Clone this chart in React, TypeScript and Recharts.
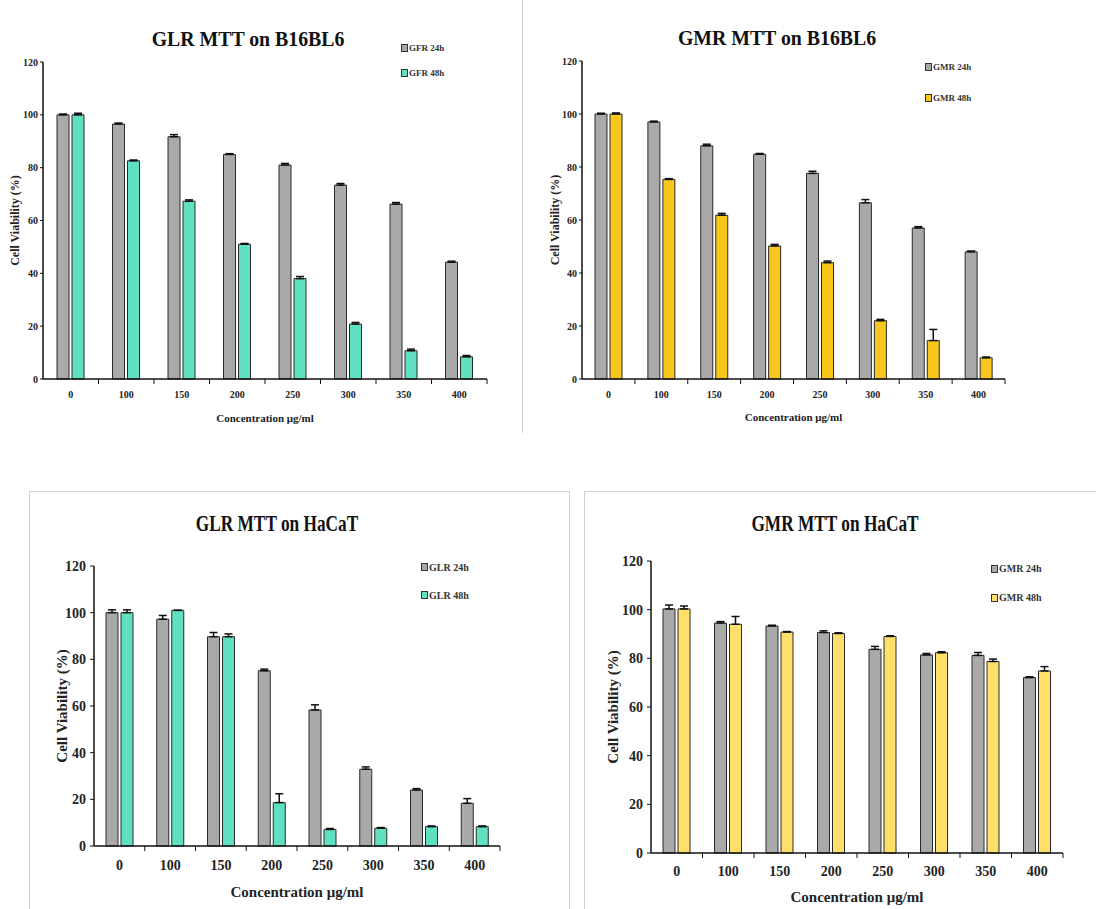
import React from 'react';
import { BarChart, Bar, XAxis, YAxis, ErrorBar, Legend } from 'recharts';

const FONT = '"Liberation Serif", "Times New Roman", serif';

const concentrations = ['0', '100', '150', '200', '250', '300', '350', '400'];
const yTicks = [0, 20, 40, 60, 80, 100, 120];

// GLR on B16BL6
const glrB16h24 = [100, 96.5, 91.7, 85, 81, 73.4, 66.2, 44.2];
const glrB16h24Err = [0.3, 0.4, 0.8, 0.3, 0.6, 0.6, 0.6, 0.4];
const glrB16h48 = [100, 82.6, 67.3, 51, 38, 20.8, 10.7, 8.4];
const glrB16h48Err = [0.6, 0.3, 0.5, 0.3, 0.8, 0.6, 0.6, 0.5];

// GMR on B16BL6
const gmrB16h24 = [100, 97, 88, 84.8, 77.6, 66.5, 57, 48];
const gmrB16h24Err = [0.3, 0.3, 0.6, 0.3, 0.8, 1.2, 0.5, 0.3];
const gmrB16h48 = [100, 75.3, 61.8, 50.2, 43.9, 22, 14.5, 8];
const gmrB16h48Err = [0.4, 0.3, 0.7, 0.6, 0.6, 0.5, 4.2, 0.3];

// GLR on HaCaT
const glrHaCaTh24 = [100, 97.2, 89.7, 75.1, 58.3, 32.9, 24, 18.3];
const glrHaCaTh24Err = [1.2, 1.6, 1.8, 0.7, 2.2, 1.0, 0.6, 2.0];
const glrHaCaTh48 = [100, 101, 89.7, 18.6, 7.1, 7.6, 8.3, 8.3];
const glrHaCaTh48Err = [1.2, 0, 1.2, 3.8, 0.4, 0.3, 0.3, 0.3];

// GMR on HaCaT
const gmrHaCaTh24 = [100.3, 94.5, 93.3, 90.6, 83.7, 81.4, 81.2, 72.1];
const gmrHaCaTh24Err = [1.6, 0.6, 0.3, 0.7, 1.2, 0.6, 1.2, 0.3];
const gmrHaCaTh48 = [100.3, 94, 90.8, 90.2, 89, 82.3, 78.7, 74.8];
const gmrHaCaTh48Err = [1.2, 3.2, 0.2, 0.3, 0.3, 0.4, 1.0, 1.8];

const GRAY = '#a9a9a9';
const TEAL = '#5fe0c0';
const YELLOW_DARK = '#f8c61c';
const YELLOW_LIGHT = '#fddf6a';

type PanelProps = {
  title: string;
  names: [string, string];
  colors: [string, string];
  v24: number[];
  e24: number[];
  v48: number[];
  e48: number[];
  left: number;
  top: number;
  width: number;
  height: number;
  yAxisW: number;
  plotTop: number;
  plotRight: number;
  xAxisH: number;
  tickFont: number;
  labelFont: number;
  yLabelFont: number;
  legendFont: number;
  titleFont: number;
  titleScale: number;
  titlePos: [number, number];
  legendPos: [number, number, number];
  yLabelX: number;
  xLabelOffset: number;
  xTickMargin: number;
  yTickSize: number;
  yTickMargin: number;
  barSize: number;
};

const Panel: React.FC<PanelProps> = (p) => {
  const data = concentrations.map((c, i) => ({
    conc: c,
    h24: p.v24[i],
    h24Err: [0, p.e24[i]],
    h48: p.v48[i],
    h48Err: [0, p.e48[i]],
  }));

  // half of a category band, tick marks sit on the band boundaries
  const halfBand = (p.width - p.yAxisW - p.plotRight) / concentrations.length / 2;

  const renderTick = (props: any) => {
    const { x, y, payload } = props;
    return (
      <g>
        <line x1={x + halfBand} x2={x + halfBand} y1={y} y2={y + 5} stroke="#111" strokeWidth={1} />
        <text
          x={x}
          y={y + p.xTickMargin}
          dy="0.71em"
          textAnchor="middle"
          fontFamily={FONT}
          fontWeight="bold"
          fontSize={p.tickFont}
          fill="#222"
        >
          {payload.value}
        </text>
      </g>
    );
  };

  const renderLegend = (props: any) => {
    const items = props.payload || [];
    const rowH = p.legendPos[2];
    return (
      <div style={{ fontFamily: FONT, fontWeight: 'bold', fontSize: p.legendFont, color: '#333' }}>
        {items.map((it: any) => (
          <div key={it.value} style={{ height: rowH, display: 'flex', alignItems: 'center' }}>
            <span
              style={{
                display: 'inline-block',
                width: 5,
                height: 6,
                background: it.color,
                border: '1px solid #333',
                marginRight: 1,
              }}
            />
            <span style={{ whiteSpace: 'nowrap' }}>{it.value}</span>
          </div>
        ))}
      </div>
    );
  };

  return (
    <div style={{ position: 'absolute', left: p.left, top: p.top, width: p.width, height: p.height }}>
      <div
        style={{
          position: 'absolute',
          left: p.titlePos[0],
          top: p.titlePos[1],
          transform: `translate(-50%, -50%) scaleX(${p.titleScale})`,
          fontFamily: FONT,
          fontWeight: 'bold',
          fontSize: p.titleFont,
          whiteSpace: 'nowrap',
          color: '#111',
          zIndex: 2,
        }}
      >
        {p.title}
      </div>
      <BarChart
        width={p.width}
        height={p.height}
        data={data}
        margin={{ top: p.plotTop, right: p.plotRight, bottom: 0, left: 0 }}
        barSize={p.barSize}
        barGap={3}
      >
        <XAxis
          dataKey="conc"
          height={p.xAxisH}
          axisLine={{ stroke: '#111', strokeWidth: 1.5 }}
          tickLine={false}
          tickSize={0}
          tickMargin={0}
          interval={0}
          tick={renderTick}
          label={{
            value: 'Concentration μg/ml',
            position: 'insideBottom',
            offset: p.xLabelOffset,
            style: { fontFamily: FONT, fontWeight: 'bold', fontSize: p.labelFont, fill: '#222' },
          }}
        />
        <YAxis
          domain={[0, 120]}
          ticks={yTicks}
          width={p.yAxisW}
          tickSize={p.yTickSize}
          tickMargin={p.yTickMargin}
          axisLine={{ stroke: '#111', strokeWidth: 1.5 }}
          tickLine={{ stroke: '#111' }}
          tick={{ fontFamily: FONT, fontWeight: 'bold', fontSize: p.tickFont, fill: '#222' }}
          label={{
            value: 'Cell Viability  (%)',
            angle: -90,
            position: 'insideLeft',
            offset: p.yLabelX,
            style: { fontFamily: FONT, fontWeight: 'bold', fontSize: p.yLabelFont, fill: '#222', textAnchor: 'middle' },
          }}
        />
        <Legend
          layout="horizontal"
          align="center"
          verticalAlign="middle"
          content={renderLegend}
          wrapperStyle={{ left: p.legendPos[0], top: p.legendPos[1], width: 'auto', height: 'auto' }}
        />
        <Bar dataKey="h24" name={p.names[0]} fill={p.colors[0]} stroke="#2a2a2a" strokeWidth={1} isAnimationActive={false}>
          <ErrorBar dataKey="h24Err" width={4} stroke="#111" strokeWidth={1.5} direction="y" />
        </Bar>
        <Bar dataKey="h48" name={p.names[1]} fill={p.colors[1]} stroke="#2a2a2a" strokeWidth={1} isAnimationActive={false}>
          <ErrorBar dataKey="h48Err" width={4} stroke="#111" strokeWidth={1.5} direction="y" />
        </Bar>
      </BarChart>
    </div>
  );
};

const topCommon = {
  tickFont: 10,
  labelFont: 11,
  yLabelFont: 12,
  legendFont: 9,
  titleFont: 22,
  titleScale: 0.9,
  xTickMargin: 12,
  yTickSize: 3,
  yTickMargin: 2,
  barSize: 12,
};

const bottomCommon = {
  tickFont: 14,
  labelFont: 15,
  yLabelFont: 15,
  legendFont: 10,
  titleFont: 24,
  titleScale: 0.72,
  yTickSize: 4,
  yTickMargin: 4,
  barSize: 12,
};

export default function App() {
  return (
    <div style={{ position: 'absolute', left: 0, top: 0, width: 1096, height: 909, background: '#fff', overflow: 'hidden' }}>
      {/* panel frames */}
      <div style={{ position: 'absolute', left: 522, top: 0, width: 0, height: 433, borderLeft: '1px solid #d0d0d0' }} />
      <div style={{ position: 'absolute', left: 29, top: 491, width: 539, height: 430, border: '1px solid #d0d0d0' }} />
      <div style={{ position: 'absolute', left: 584, top: 491, width: 530, height: 430, border: '1px solid #d0d0d0' }} />

      <Panel
        {...topCommon}
        title="GLR MTT on B16BL6"
        names={['GFR 24h', 'GFR 48h']}
        colors={[GRAY, TEAL]}
        v24={glrB16h24}
        e24={glrB16h24Err}
        v48={glrB16h48}
        e48={glrB16h48Err}
        left={0}
        top={0}
        width={530}
        height={440}
        yAxisW={43}
        plotTop={62}
        plotRight={43}
        xAxisH={61}
        titlePos={[248, 39]}
        legendPos={[401, 35, 25]}
        yLabelX={15}
        xLabelOffset={18}
      />
      <Panel
        {...topCommon}
        title="GMR MTT on B16BL6"
        names={['GMR 24h', 'GMR 48h']}
        colors={[GRAY, YELLOW_DARK]}
        v24={gmrB16h24}
        e24={gmrB16h24Err}
        v48={gmrB16h48}
        e48={gmrB16h48Err}
        left={540}
        top={0}
        width={556}
        height={440}
        yAxisW={42}
        plotTop={61}
        plotRight={91}
        xAxisH={61}
        titlePos={[237, 38]}
        legendPos={[385, 51, 31]}
        yLabelX={15}
        xLabelOffset={19}
      />
      <Panel
        {...bottomCommon}
        title="GLR MTT on HaCaT"
        names={['GLR 24h', 'GLR 48h']}
        colors={[GRAY, TEAL]}
        v24={glrHaCaTh24}
        e24={glrHaCaTh24Err}
        v48={glrHaCaTh48}
        e48={glrHaCaTh48Err}
        left={0}
        top={480}
        width={560}
        height={429}
        yAxisW={94}
        plotTop={86}
        plotRight={60}
        xAxisH={63}
        titlePos={[277, 43]}
        legendPos={[421, 73, 28]}
        yLabelX={62}
        xLabelOffset={12}
        xTickMargin={14}
      />
      <Panel
        {...bottomCommon}
        title="GMR MTT on HaCaT"
        names={['GMR 24h', 'GMR 48h']}
        colors={[GRAY, YELLOW_LIGHT]}
        v24={gmrHaCaTh24}
        e24={gmrHaCaTh24Err}
        v48={gmrHaCaTh48}
        e48={gmrHaCaTh48Err}
        left={560}
        top={480}
        width={536}
        height={429}
        yAxisW={91}
        plotTop={81}
        plotRight={33}
        xAxisH={56}
        titlePos={[275, 43]}
        legendPos={[431, 74, 29]}
        yLabelX={53}
        xLabelOffset={7}
        xTickMargin={13}
      />
    </div>
  );
}
